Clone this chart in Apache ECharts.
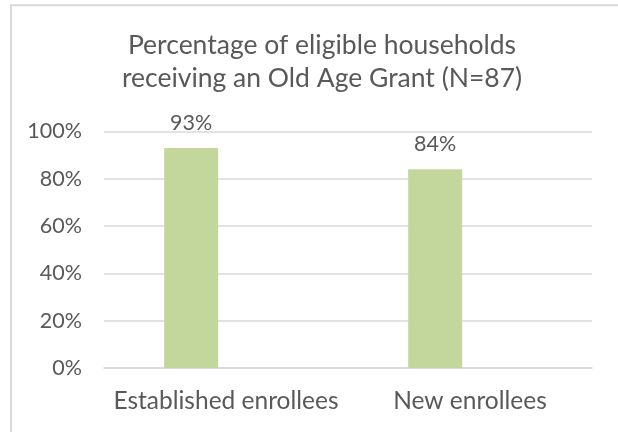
<!DOCTYPE html>
<html>
<head>
<meta charset="utf-8">
<script src="https://cdn.jsdelivr.net/npm/echarts@6/dist/echarts.min.js"></script>
<style>
  html, body { margin: 0; padding: 0; background: #ffffff; }
  #chart { width: 618px; height: 432px; }
</style>
</head>
<body>
<div id="chart"></div>
<script>
// Old Age Grant uptake among eligible households, by enrolment group
const categories = ['Established enrollees', 'New enrollees'];
const grantShare = [0.93, 0.84];
const yTicks = [0, 0.2, 0.4, 0.6, 0.8, 1.0];
const chartTitle = 'Percentage of eligible households\nreceiving an Old Age Grant (N=87)';

const textColor = '#595959';
const gridColor = '#D9D9D9';
const barColor = '#C3D69B';
const fontFamily = 'Lato, "Open Sans", sans-serif';

const pct = v => Math.round(v * 100) + '%';

const chart = echarts.init(document.getElementById('chart'), null, { renderer: 'canvas' });

chart.setOption({
  animation: false,
  backgroundColor: '#ffffff',
  graphic: [{
    type: 'rect',
    silent: true,
    shape: { x: 11, y: 5.3, width: 800, height: 600 },
    style: { fill: 'none', stroke: gridColor, lineWidth: 2 }
  }],
  title: {
    text: chartTitle,
    left: 317,
    top: 24,
    textAlign: 'center',
    textStyle: {
      color: textColor,
      fontFamily: fontFamily,
      fontWeight: 'normal',
      fontSize: 26.5,
      lineHeight: 33
    }
  },
  grid: { left: 104, right: 26, top: 131.5, bottom: 64, containLabel: false },
  xAxis: {
    type: 'category',
    data: categories,
    axisLine: { show: true, lineStyle: { color: gridColor, width: 1.5 } },
    axisTick: { show: false },
    axisLabel: {
      interval: 0,
      hideOverlap: false,
      color: textColor,
      fontFamily: fontFamily,
      fontSize: 24.5,
      margin: 21
    }
  },
  yAxis: {
    type: 'value',
    min: yTicks[0],
    max: yTicks[yTicks.length - 1],
    interval: yTicks[1] - yTicks[0],
    axisLine: { show: false },
    axisTick: { show: false },
    splitLine: { lineStyle: { color: gridColor, width: 1.5 } },
    axisLabel: {
      color: textColor,
      fontFamily: fontFamily,
      fontSize: 21.5,
      margin: 22,
      formatter: v => pct(v)
    }
  },
  series: [
    {
      name: 'Receiving grant',
      type: 'bar',
      data: grantShare,
      barWidth: 54,
      barGap: '29%',
      itemStyle: { color: barColor },
      label: {
        show: true,
        position: 'top',
        distance: 14,
        color: textColor,
        fontFamily: fontFamily,
        fontSize: 21.5,
        formatter: p => pct(p.value)
      }
    },
    {
      // empty companion series keeps the bar slot layout of the original two-series chart
      name: 'spacer',
      type: 'bar',
      data: categories.map(() => '-'),
      barWidth: 54,
      itemStyle: { color: barColor }
    }
  ]
});
</script>
</body>
</html>
